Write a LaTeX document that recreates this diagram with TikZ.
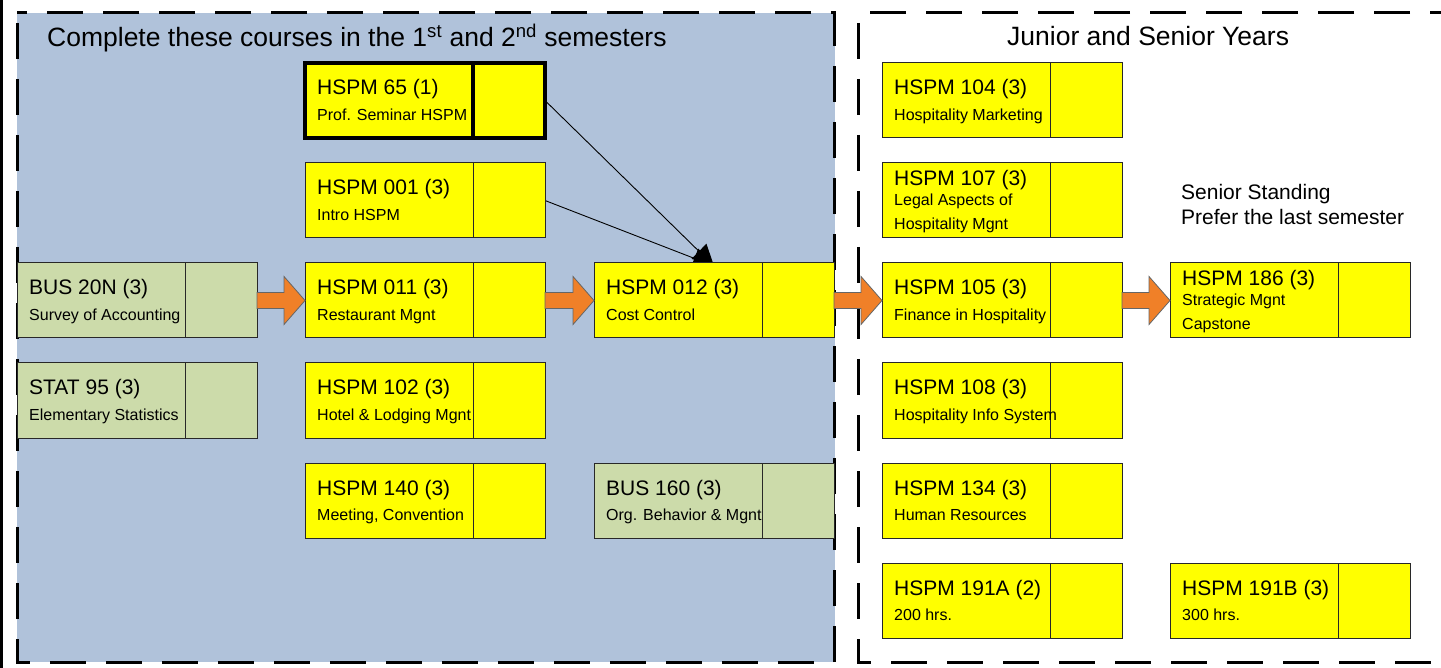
\documentclass[tikz,border=0pt]{standalone}
\usepackage{fontspec}
\setmainfont{Liberation Sans}
\usetikzlibrary{arrows.meta,calc}
\pgfdeclarelayer{bg}
\pgfdeclarelayer{conn}
\pgfsetlayers{bg,conn,main}
\definecolor{blueregion}{RGB}{176,194,218}
\definecolor{cyellow}{RGB}{255,255,0}
\definecolor{cgreen}{RGB}{204,219,170}
\definecolor{corange}{RGB}{240,128,40}
\definecolor{cborder}{RGB}{40,40,40}
\tikzset{
 box/.style={draw=cborder, line width=1pt, anchor=north west, minimum width=240pt, minimum height=75pt, inner sep=0pt, outer sep=0pt},
 yel/.style={fill=cyellow},
 grn/.style={fill=cgreen},
 heavy/.style={draw=black, line width=4.5pt},
 ttl/.style={anchor=base west, inner sep=0pt, font=\fontsize{21}{25}\selectfont},
 sub/.style={anchor=base west, inner sep=0pt, font=\fontsize{16}{19}\selectfont},
 hdr/.style={anchor=base west, inner sep=0pt, font=\fontsize{26.5}{31}\selectfont},
 note/.style={anchor=base west, inner sep=0pt, font=\fontsize{21}{25}\selectfont},
 region/.style={draw=black, line width=3pt, dash pattern=on 36pt off 20pt, dash phase=-10pt},
 thinarr/.style={draw=black, line width=0.9pt, -{Triangle[length=21pt,width=21pt]}},
 blockarr/.style={draw=gray!80!black, line width=0.8pt, fill=corange},
}
\newcommand\course[6]{%
 \node[box,#4] (#1) at (#2,#3) {};
 \draw[draw=cborder, line width=1pt, #4] ([xshift=168pt]#1.north west) -- ([xshift=168pt]#1.south west);
 \node[ttl] (#1t) at ([shift={(12,32)}]#1.north west) {#5};
 \node[sub] (#1s) at ([shift={(12,57.5)}]#1.north west) {#6};
}
\newcommand\coursethree[7]{%
 \node[box,#4] (#1) at (#2,#3) {};
 \draw[draw=cborder, line width=1pt, #4] ([xshift=168pt]#1.north west) -- ([xshift=168pt]#1.south west);
 \node[ttl] (#1t) at ([shift={(12,23)}]#1.north west) {#5};
 \node[sub] (#1s) at ([shift={(12,43)}]#1.north west) {#6};
 \node[sub] (#1u) at ([shift={(12,67)}]#1.north west) {#7};
}
\newcommand\blockarr[2]{%
 \draw[blockarr] ($(#1.east)+(0,-8)$) -- ($(#2.west)+(-21,-8)$) -- ($(#2.west)+(-21,-24)$) -- (#2.west)
   -- ($(#2.west)+(-21,24)$) -- ($(#2.west)+(-21,8)$) -- ($(#1.east)+(0,8)$) -- cycle;
}
\begin{document}
\begin{tikzpicture}[x=1pt,y=-1pt]
\useasboundingbox (0,0) rectangle (1441,668);
\begin{pgfonlayer}{bg}
 \fill[blueregion] (17,13) rectangle (835,662);
 \draw[region] (17,13) rectangle (834,662);
 \draw[region] (858,13) rectangle (1470,662);
 \draw[line width=2.5pt] (1.25,0) -- (1.25,668);
\end{pgfonlayer}
\node[hdr] (hdrL) at (47,47) {Complete these courses in the 1\textsuperscript{st} and 2\textsuperscript{nd} semesters};
\node[hdr] (hdrR) at (1007,46) {Junior and Senior Years};
\node[note] (sen1) at (1181,200) {Senior Standing};
\node[note] (sen2) at (1181,225) {Prefer the last semester};
\course{h65}{305}{63}{yel,heavy}{HSPM 65 (1)}{Prof. Seminar HSPM}
\course{h001}{305}{163}{yel}{HSPM 001 (3)}{Intro HSPM}
\course{h011}{305}{263}{yel}{HSPM 011 (3)}{Restaurant Mgnt}
\course{h102}{305}{363}{yel}{HSPM 102 (3)}{Hotel \& Lodging Mgnt}
\course{h140}{305}{463}{yel}{HSPM 140 (3)}{Meeting, Convention}
\course{b20}{17}{263}{grn}{BUS 20N (3)}{Survey of Accounting}
\course{s95}{17}{363}{grn}{STAT 95 (3)}{Elementary Statistics}
\course{h012}{594}{263}{yel}{HSPM 012 (3)}{Cost Control}
\course{b160}{594}{463}{grn}{BUS 160 (3)}{Org. Behavior \& Mgnt}
\course{h104}{882}{63}{yel}{HSPM 104 (3)}{Hospitality Marketing}
\coursethree{h107}{882}{163}{yel}{HSPM 107 (3)}{Legal Aspects of}{Hospitality Mgnt}
\course{h105}{882}{263}{yel}{HSPM 105 (3)}{Finance in Hospitality}
\course{h108}{882}{363}{yel}{HSPM 108 (3)}{Hospitality Info System}
\course{h134}{882}{463}{yel}{HSPM 134 (3)}{Human Resources}
\course{h191a}{882}{563}{yel}{HSPM 191A (2)}{200 hrs.}
\coursethree{h186}{1170}{263}{yel}{HSPM 186 (3)}{Strategic Mgnt}{Capstone}
\course{h191b}{1170}{563}{yel}{HSPM 191B (3)}{300 hrs.}
\coordinate (tip) at (714,266);
\begin{pgfonlayer}{conn}
 \draw[thinarr] (h65.east) -- (tip);
 \draw[thinarr] (h001.east) -- (tip);
\end{pgfonlayer}
\blockarr{b20}{h011}
\blockarr{h011}{h012}
\blockarr{h012}{h105}
\blockarr{h105}{h186}
\end{tikzpicture}
\end{document}
